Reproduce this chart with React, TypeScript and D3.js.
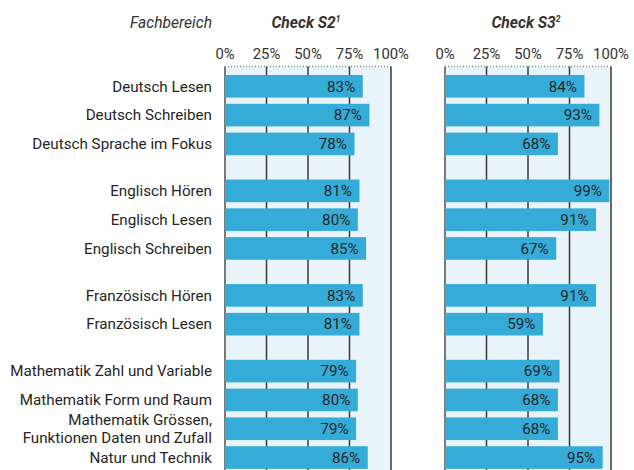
import React from "react";
import * as d3 from "d3";

const categories = [
  "Deutsch Lesen",
  "Deutsch Schreiben",
  "Deutsch Sprache im Fokus",
  "Englisch Hören",
  "Englisch Lesen",
  "Englisch Schreiben",
  "Französisch Hören",
  "Französisch Lesen",
  "Mathematik Zahl und Variable",
  "Mathematik Form und Raum",
  "Mathematik Grössen,\nFunktionen Daten und Zufall",
  "Natur und Technik",
];
const groups = [0, 0, 0, 1, 1, 1, 2, 2, 3, 3, 3, 3];
const s2Values = [83, 87, 78, 81, 80, 85, 83, 81, 79, 80, 79, 86];
const s3Values = [84, 93, 68, 99, 91, 67, 91, 59, 69, 68, 68, 95];
const tickValues = [0, 25, 50, 75, 100];
const panelTitles = ["Check S2", "Check S3"];
const panelSups = ["1", "2"];
const headerLabel = "Fachbereich";

const FONT = "Roboto, 'DejaVu Sans', sans-serif";
const BAR = "#35acd8";
const BG = "#e8f3fa";
const TEXT = "#262626";

const W = 634;
const H = 470;
const pitch = 28.8;
const groupGap = 0.63;
const barH = 22.6;
const top = 75;
const axisTop = 66.5;

const y = d3.scaleLinear().domain([0, 1]).range([top, top + pitch]);
const slot = (i: number) => i + groups[i] * groupGap;

function Panel({ x0, values, title, sup }: { x0: number; values: number[]; title: string; sup: string }) {
  const x = d3.scaleLinear().domain([0, 100]).range([x0, x0 + 166]);
  const fmt = (v: number) => `${v}%`;
  return (
    <g>
      <rect x={x(0)} y={axisTop} width={x(100) - x(0)} height={H - axisTop} fill={BG} />
      <line x1={x(0)} x2={x(100)} y1={axisTop} y2={axisTop} stroke="#8a8a8a" strokeWidth={1.5} strokeDasharray="1,2" />
      {tickValues.map((t) => (
        <g key={t}>
          <line
            x1={x(t)}
            x2={x(t)}
            y1={axisTop}
            y2={H}
            stroke={t === 0 ? "#7a7a7a" : "#3a3a3a"}
            strokeWidth={t === 0 ? 2 : 1.5}
          />
          <text x={x(t)} y={58.5} textAnchor="middle" fontSize={14.8} fill="#333" fontFamily={FONT}>
            {fmt(t)}
          </text>
        </g>
      ))}
      {values.map((v, i) => (
        <g key={i}>
          <rect x={x(0)} y={y(slot(i))} width={x(v) - x(0)} height={barH} fill={BAR} />
          <text
            x={x(v) - 7.5}
            y={y(slot(i)) + barH / 2 + 5.3}
            textAnchor="end"
            fontSize={15.2}
            fill={TEXT}
            fontFamily={FONT}
          >
            {fmt(v)}
          </text>
        </g>
      ))}
      <text
        x={(x(0) + x(100)) / 2 - 2}
        y={27.5}
        textAnchor="middle"
        fontSize={15.6}
        fontStyle="italic"
        fontWeight="bold"
        fill="#333"
        fontFamily={FONT}
      >
        {title}
        <tspan fontSize={8.5} dy={-6}>
          {sup}
        </tspan>
      </text>
    </g>
  );
}

export default function App() {
  return (
    <svg
      width={W}
      height={H}
      style={{ position: "absolute", left: 0, top: 0, background: "#fff" }}
      fontFamily={FONT}
    >
      <text x={212} y={27.5} textAnchor="end" fontSize={15.6} fontStyle="italic" fill="#333">
        {headerLabel}
      </text>
      {categories.map((c, i) => {
        const lines = c.split("\n");
        const cy = y(slot(i)) + barH / 2;
        const lh = 18;
        return (
          <text key={i} x={212} textAnchor="end" fontSize={15.2} fill={TEXT}>
            {lines.map((l, k) => (
              <tspan key={k} x={212} y={cy + 5.3 + (k - (lines.length - 1) / 2) * lh}>
                {l}
              </tspan>
            ))}
          </text>
        );
      })}
      <Panel x0={225} values={s2Values} title={panelTitles[0]} sup={panelSups[0]} />
      <Panel x0={445} values={s3Values} title={panelTitles[1]} sup={panelSups[1]} />
    </svg>
  );
}
